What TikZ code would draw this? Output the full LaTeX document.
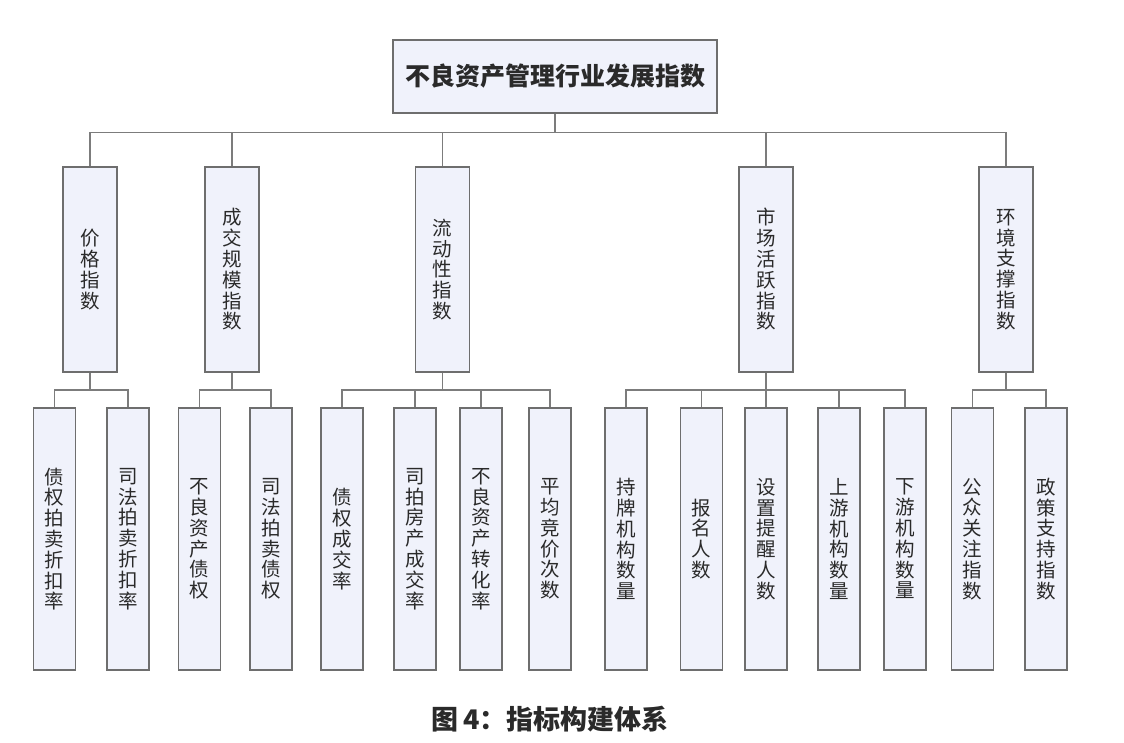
\documentclass[tikz,border=0pt]{standalone}
\usepackage{fontspec}
\setmainfont{Noto Sans CJK SC}
\begin{document}
\begin{tikzpicture}[x=1pt,y=-1pt,
  box/.style={draw=boxline,fill=boxfill,line width=1.4pt,inner sep=0pt,align=center,text=txt},
  topbox/.style={box,minimum width=324pt,minimum height=73pt,font=\fontsize{25}{27}\selectfont\bfseries},
  midbox/.style={box,minimum width=54pt,minimum height=205pt,font=\fontsize{19.5}{20.8}\selectfont},
  leafbox/.style={box,minimum width=42pt,minimum height=262pt,font=\fontsize{19.5}{20.8}\selectfont},
  conn/.style={draw=connline,line width=1.5pt}]
\definecolor{boxfill}{HTML}{F0F2FB}
\definecolor{boxline}{HTML}{6E6E6E}
\definecolor{connline}{HTML}{7C7C7C}
\definecolor{txt}{HTML}{2A2A2A}
\useasboundingbox[fill=white] (0,0) rectangle (1124,743);

\node[topbox] (top) at (555,76.5) {不良资产管理行业发展指数};

% level 2
\node[midbox] (m1) at (90,269.5) {价\\格\\指\\数};
\node[midbox] (m2) at (232,269.5) {成\\交\\规\\模\\指\\数};
\node[midbox] (m3) at (442.5,269.5) {流\\动\\性\\指\\数};
\node[midbox] (m4) at (766,269.5) {市\\场\\活\\跃\\指\\数};
\node[midbox] (m5) at (1006,269.5) {环\\境\\支\\撑\\指\\数};

% level 3
\node[leafbox] (a1) at (54.5,539) {债\\权\\拍\\卖\\折\\扣\\率};
\node[leafbox] (a2) at (128,539) {司\\法\\拍\\卖\\折\\扣\\率};
\node[leafbox] (b1) at (199.5,539) {不\\良\\资\\产\\债\\权};
\node[leafbox] (b2) at (271,539) {司\\法\\拍\\卖\\债\\权};
\node[leafbox] (c1) at (342,539) {债\\权\\成\\交\\率};
\node[leafbox] (c2) at (415,539) {司\\拍\\房\\产\\成\\交\\率};
\node[leafbox] (c3) at (481,539) {不\\良\\资\\产\\转\\化\\率};
\node[leafbox] (c4) at (550,539) {平\\均\\竞\\价\\次\\数};
\node[leafbox] (d1) at (626,539) {持\\牌\\机\\构\\数\\量};
\node[leafbox] (d2) at (701.5,539) {报\\名\\人\\数};
\node[leafbox] (d3) at (766,539) {设\\置\\提\\醒\\人\\数};
\node[leafbox] (d4) at (839,539) {上\\游\\机\\构\\数\\量};
\node[leafbox] (d5) at (905,539) {下\\游\\机\\构\\数\\量};
\node[leafbox] (e1) at (972.5,539) {公\\众\\关\\注\\指\\数};
\node[leafbox] (e2) at (1046,539) {政\\策\\支\\持\\指\\数};

% connectors level 1 -> 2
\foreach \n in {m1,m2,m3,m4,m5}
  \draw[conn] (top.south) -- ++(0,19) -| (\n.north);

% connectors level 2 -> 3
\foreach \p/\c in {m1/a1,m1/a2,m2/b1,m2/b2,m3/c1,m3/c2,m3/c3,m3/c4,m4/d1,m4/d2,m4/d3,m4/d4,m4/d5,m5/e1,m5/e2}
  \draw[conn] (\p.south) -- ++(0,17.5) -| (\c.north);

\node[font=\fontsize{27}{29}\selectfont\bfseries,text=txt] (cap) at (550,719) {图\,4：指标构建体系};
\end{tikzpicture}
\end{document}
